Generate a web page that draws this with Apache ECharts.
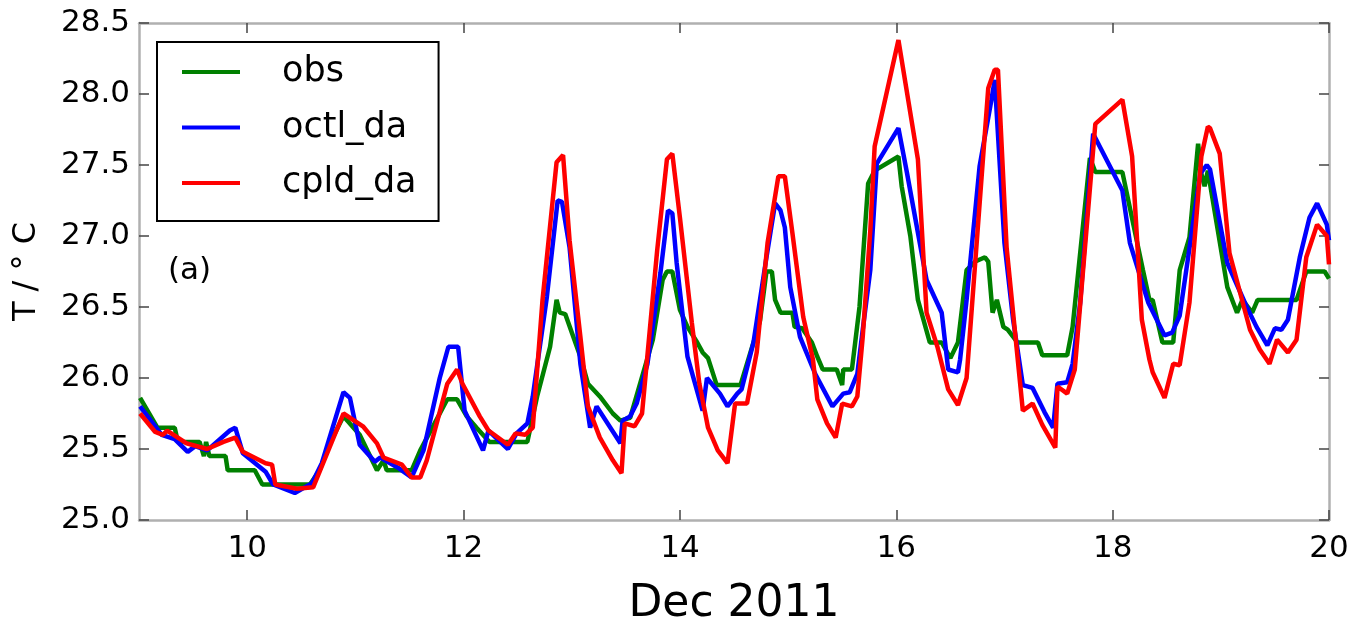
<!DOCTYPE html>
<html>
<head>
<meta charset="utf-8">
<script src="https://cdn.jsdelivr.net/npm/echarts@6/dist/echarts.min.js"></script>
<style>
    html, body { margin: 0; padding: 0; background: #fff; }
    #main { width: 1356px; height: 624px; }
</style>
</head>
<body>
<div id="main"></div>
<script>
// day of Dec 2011, temperature (deg C)
let obsData = [
    [9.01, 25.86], [9.17, 25.65], [9.33, 25.65], [9.36, 25.55], [9.56, 25.55], [9.6, 25.45], [9.62, 25.55],
    [9.65, 25.45], [9.8, 25.45], [9.82, 25.35], [10.07, 25.35], [10.14, 25.25], [10.58, 25.25],
    [10.67, 25.35], [10.77, 25.55], [10.89, 25.73], [11.04, 25.6], [11.2, 25.35], [11.26, 25.42],
    [11.29, 25.35], [11.52, 25.35], [11.6, 25.49], [11.85, 25.85], [11.94, 25.85], [12.03, 25.73],
    [12.12, 25.65], [12.24, 25.55], [12.59, 25.55], [12.68, 25.87], [12.8, 26.22], [12.86, 26.55],
    [12.89, 26.46], [12.94, 26.45], [13.08, 26.15], [13.15, 25.96], [13.26, 25.87], [13.38, 25.75],
    [13.45, 25.7], [13.54, 25.72], [13.75, 26.27], [13.84, 26.69], [13.88, 26.75], [13.93, 26.75],
    [14.0, 26.48], [14.07, 26.36], [14.16, 26.25], [14.21, 26.18], [14.26, 26.14], [14.34, 25.95],
    [14.56, 25.95], [14.74, 26.4], [14.8, 26.75], [14.85, 26.75], [14.88, 26.55], [14.93, 26.46],
    [15.04, 26.46], [15.06, 26.36], [15.13, 26.35], [15.22, 26.25], [15.27, 26.15], [15.32, 26.06],
    [15.45, 26.06], [15.5, 25.95], [15.51, 26.06], [15.59, 26.06], [15.66, 26.5], [15.74, 27.37],
    [15.8, 27.46], [16.02, 27.56], [16.05, 27.35], [16.13, 27.0], [16.2, 26.55], [16.31, 26.25],
    [16.42, 26.25], [16.5, 26.14], [16.57, 26.25], [16.65, 26.76], [16.73, 26.82], [16.82, 26.85],
    [16.85, 26.82], [16.88, 26.55], [16.89, 26.46], [16.93, 26.55], [16.99, 26.36], [17.03, 26.34],
    [17.12, 26.25], [17.31, 26.25], [17.35, 26.16], [17.58, 26.16], [17.63, 26.36], [17.79, 27.55],
    [17.84, 27.45], [18.09, 27.45], [18.28, 26.76], [18.34, 26.55], [18.37, 26.55], [18.46, 26.25],
    [18.56, 26.25], [18.62, 26.76], [18.71, 26.99], [18.79, 27.65], [18.82, 27.44], [18.85, 27.35],
    [18.88, 27.46], [19.06, 26.64], [19.15, 26.46], [19.2, 26.55], [19.29, 26.46], [19.34, 26.55],
    [19.7, 26.55], [19.79, 26.75], [19.96, 26.75], [20.0, 26.7]
];
let octlData = [
    [9.01, 25.8], [9.21, 25.6], [9.33, 25.57], [9.45, 25.48], [9.52, 25.52], [9.63, 25.49], [9.84, 25.63],
    [9.89, 25.65], [9.96, 25.47], [10.17, 25.34], [10.24, 25.25], [10.44, 25.19], [10.6, 25.26],
    [10.69, 25.4], [10.89, 25.9], [10.95, 25.86], [11.04, 25.53], [11.18, 25.41], [11.23, 25.44],
    [11.39, 25.37], [11.52, 25.3], [11.63, 25.49], [11.78, 26.0], [11.86, 26.22], [11.95, 26.22],
    [12.01, 25.77], [12.18, 25.49], [12.23, 25.63], [12.41, 25.5], [12.49, 25.61], [12.59, 25.68],
    [12.64, 25.87], [12.77, 26.57], [12.87, 27.25], [12.91, 27.24], [12.98, 26.92], [13.08, 26.1],
    [13.17, 25.65], [13.23, 25.8], [13.45, 25.54], [13.47, 25.7], [13.54, 25.73], [13.6, 25.82],
    [13.7, 26.1], [13.82, 26.74], [13.89, 27.18], [13.93, 27.16], [13.97, 26.81], [14.07, 26.15],
    [14.21, 25.77], [14.25, 26.0], [14.37, 25.89], [14.44, 25.8], [14.53, 25.89], [14.57, 25.92],
    [14.68, 26.25], [14.8, 26.85], [14.88, 27.23], [14.93, 27.18], [14.97, 27.06], [15.02, 26.64],
    [15.11, 26.29], [15.25, 26.03], [15.41, 25.8], [15.51, 25.89], [15.57, 25.9], [15.64, 26.03],
    [15.69, 26.34], [15.76, 26.76], [15.82, 27.51], [16.02, 27.76], [16.1, 27.44], [16.28, 26.69],
    [16.42, 26.46], [16.48, 26.06], [16.57, 26.04], [16.59, 26.13], [16.65, 26.55], [16.77, 27.49],
    [16.88, 27.96], [16.91, 28.1], [17.0, 26.95], [17.08, 26.41], [17.17, 25.95], [17.26, 25.93],
    [17.37, 25.76], [17.45, 25.65], [17.49, 25.96], [17.58, 25.97], [17.63, 26.1], [17.7, 26.53],
    [17.82, 27.72], [18.09, 27.32], [18.16, 26.95], [18.33, 26.53], [18.48, 26.3], [18.55, 26.32],
    [18.62, 26.44], [18.81, 27.44], [18.87, 27.5], [18.9, 27.47], [19.06, 26.81], [19.24, 26.5],
    [19.33, 26.36], [19.43, 26.23], [19.5, 26.35], [19.56, 26.34], [19.62, 26.41], [19.73, 26.85],
    [19.82, 27.13], [19.89, 27.23], [19.98, 27.08], [20.0, 26.97]
];
let cpldData = [
    [9.01, 25.75], [9.15, 25.62], [9.22, 25.6], [9.26, 25.63], [9.44, 25.54], [9.63, 25.5], [9.78, 25.55],
    [9.89, 25.58], [9.96, 25.48], [10.17, 25.4], [10.23, 25.39], [10.26, 25.25], [10.46, 25.22],
    [10.61, 25.23], [10.89, 25.75], [11.07, 25.66], [11.2, 25.54], [11.26, 25.44], [11.43, 25.39],
    [11.52, 25.3], [11.6, 25.3], [11.66, 25.42], [11.85, 25.96], [11.94, 26.06], [11.99, 25.96],
    [12.15, 25.73], [12.23, 25.63], [12.41, 25.53], [12.48, 25.61], [12.57, 25.6], [12.64, 25.65],
    [12.73, 26.55], [12.86, 27.52], [12.92, 27.57], [12.98, 26.97], [13.08, 26.29], [13.15, 25.8],
    [13.26, 25.58], [13.38, 25.42], [13.46, 25.33], [13.49, 25.68], [13.58, 25.66], [13.65, 25.75],
    [13.79, 26.9], [13.88, 27.54], [13.93, 27.58], [14.0, 27.13], [14.11, 26.39], [14.18, 25.96],
    [14.26, 25.65], [14.35, 25.49], [14.44, 25.4], [14.51, 25.82], [14.62, 25.82], [14.71, 26.18],
    [14.81, 26.95], [14.91, 27.42], [14.97, 27.42], [15.04, 27.02], [15.14, 26.43], [15.23, 26.13],
    [15.27, 25.85], [15.36, 25.68], [15.44, 25.58], [15.5, 25.82], [15.59, 25.8], [15.64, 25.87],
    [15.69, 26.29], [15.76, 27.04], [15.8, 27.63], [16.02, 28.38], [16.2, 27.54], [16.28, 26.46],
    [16.38, 26.22], [16.48, 25.92], [16.57, 25.81], [16.65, 26.0], [16.85, 28.04], [16.91, 28.17],
    [16.94, 28.17], [17.02, 26.92], [17.17, 25.77], [17.26, 25.82], [17.35, 25.67], [17.47, 25.51],
    [17.49, 25.94], [17.58, 25.89], [17.65, 26.06], [17.84, 27.79], [18.09, 27.96], [18.18, 27.56],
    [18.27, 26.41], [18.34, 26.13], [18.37, 26.04], [18.48, 25.86], [18.56, 26.1], [18.62, 26.09],
    [18.71, 26.53], [18.82, 27.56], [18.88, 27.77], [18.9, 27.76], [18.99, 27.58], [19.08, 26.88],
    [19.27, 26.34], [19.36, 26.2], [19.45, 26.1], [19.52, 26.27], [19.62, 26.18], [19.7, 26.27],
    [19.79, 26.85], [19.89, 27.08], [19.98, 27.0], [20.0, 26.8]
];
let xTicks = [10, 12, 14, 16, 18, 20];
let seriesNames = ['obs', 'octl_da', 'cpld_da'];
let seriesColors = ['#008000', '#0000ff', '#ff0000'];

let font = '"DejaVu Sans", sans-serif';
let frameColor = '#b0b0b0';
let tickColor = '#444';

function makeSeries(name, data, color) {
    return {
        name: name,
        type: 'line',
        data: data,
        symbol: 'none',
        color: color,
        lineStyle: { width: 4.5, color: color },
        animation: false
    };
}

let chart = echarts.init(document.getElementById('main'));
let option = {
    backgroundColor: '#fff',
    textStyle: { fontFamily: font },
    grid: { left: 139, right: 27, top: 23, bottom: 104, outerBoundsMode: 'none' },
    title: {
        text: '(a)',
        left: 163,
        top: 250,
        textStyle: { fontSize: 31, fontWeight: 'normal', fontFamily: font, color: '#000' }
    },
    legend: {
        orient: 'vertical',
        left: 157,
        top: 42,
        padding: [12, 22, 20, 25],
        itemGap: 19.5,
        itemWidth: 58,
        itemHeight: 4,
        icon: 'rect',
        borderColor: '#000',
        borderWidth: 2,
        backgroundColor: '#fff',
        data: seriesNames,
        textStyle: { fontSize: 35, lineHeight: 36, padding: [0, 0, 0, 37], color: '#000', fontFamily: font }
    },
    xAxis: [
        {
            type: 'value',
            min: 9,
            max: 20,
            name: 'Dec 2011',
            nameLocation: 'middle',
            nameGap: 63,
            nameTextStyle: { fontSize: 44, color: '#000', fontFamily: font },
            axisLine: { show: true, onZero: false, lineStyle: { color: frameColor, width: 2.5 } },
            axisTick: { show: true, inside: true, length: 10, customValues: xTicks, lineStyle: { color: tickColor, width: 1.5 } },
            axisLabel: { customValues: xTicks, showMaxLabel: true, showMinLabel: true, margin: 13, fontSize: 31, color: '#000', fontFamily: font },
            splitLine: { show: false }
        },
        {
            type: 'value',
            position: 'top',
            min: 9,
            max: 20,
            axisLine: { show: true, onZero: false, lineStyle: { color: frameColor, width: 2.5 } },
            axisTick: { show: true, inside: true, length: 10, customValues: xTicks, lineStyle: { color: tickColor, width: 1.5 } },
            axisLabel: { show: false },
            splitLine: { show: false }
        }
    ],
    yAxis: [
        {
            type: 'value',
            min: 25,
            max: 28.5,
            interval: 0.5,
            name: 'T / \u00b0 C',
            nameLocation: 'middle',
            nameGap: 96,
            nameTextStyle: { fontSize: 32, color: '#000', fontFamily: font },
            axisLine: { show: true, onZero: false, lineStyle: { color: frameColor, width: 2.5 } },
            axisTick: { show: true, inside: true, length: 10, lineStyle: { color: tickColor, width: 1.5 } },
            axisLabel: {
                margin: 9,
                fontSize: 31,
                color: '#000',
                fontFamily: font,
                formatter: function (val) {
                    return val.toFixed(1);
                }
            },
            splitLine: { show: false }
        },
        {
            type: 'value',
            position: 'right',
            min: 25,
            max: 28.5,
            interval: 0.5,
            axisLine: { show: true, onZero: false, lineStyle: { color: frameColor, width: 2.5 } },
            axisTick: { show: true, inside: true, length: 10, lineStyle: { color: tickColor, width: 1.5 } },
            axisLabel: { show: false },
            splitLine: { show: false }
        }
    ],
    series: [
        makeSeries(seriesNames[0], obsData, seriesColors[0]),
        makeSeries(seriesNames[1], octlData, seriesColors[1]),
        makeSeries(seriesNames[2], cpldData, seriesColors[2])
    ]
};
chart.setOption(option);
</script>
</body>
</html>
